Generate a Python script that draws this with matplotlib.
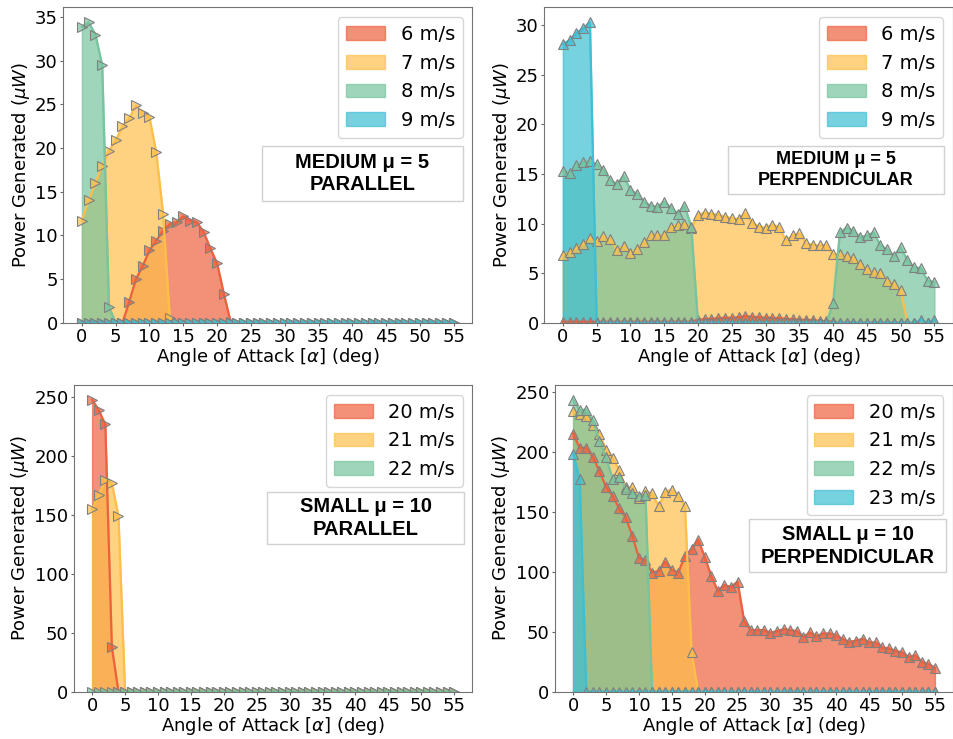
import matplotlib
matplotlib.use("Agg")
import matplotlib.pyplot as plt
from matplotlib.colors import to_rgba
from matplotlib.patches import Rectangle
import numpy as np

angles = np.arange(0, 56)

# medium particles, mu = 5, parallel orientation (uW)
med_par_6 = [0, 0, 0, 0, 0, 0, 0, 2.4, 5.0, 6.5,
             8.3, 9.4, 10.5, 11.3, 11.5, 12.2, 11.7, 11.5, 10.4, 8.5,
             6.8, 3.3, 0.1, 0, 0, 0, 0, 0, 0, 0,
             0, 0, 0, 0, 0, 0, 0, 0, 0, 0,
             0, 0, 0, 0, 0, 0, 0, 0, 0, 0,
             0, 0, 0, 0, 0, 0]
med_par_7 = [11.7, 14.0, 16.0, 18.0, 19.7, 20.9, 22.5, 23.4, 24.9, 24.0,
             23.5, 19.5, 12.5, 0.5, 0, 0, 0, 0, 0, 0,
             0, 0, 0, 0, 0, 0, 0, 0, 0, 0,
             0, 0, 0, 0, 0, 0, 0, 0, 0, 0,
             0, 0, 0, 0, 0, 0, 0, 0, 0, 0,
             0, 0, 0, 0, 0, 0]
med_par_8 = [33.9, 34.4, 33.0, 29.5, 1.8, 0, 0, 0, 0, 0,
             0, 0, 0, 0, 0, 0, 0, 0, 0, 0,
             0, 0, 0, 0, 0, 0, 0, 0, 0, 0,
             0, 0, 0, 0, 0, 0, 0, 0, 0, 0,
             0, 0, 0, 0, 0, 0, 0, 0, 0, 0,
             0, 0, 0, 0, 0, 0]
med_par_9 = [0] * 56

# medium particles, mu = 5, perpendicular orientation (uW)
med_perp_6 = [0.1, 0.1, 0.1, 0.1, 0.1, 0.1, 0.1, 0.1, 0.1, 0.1,
              0.1, 0.1, 0.1, 0.1, 0.1, 0.1, 0.1, 0.1, 0.1, 0.1,
              0.3, 0.35, 0.4, 0.45, 0.5, 0.5, 0.55, 0.65, 0.6, 0.55,
              0.5, 0.5, 0.45, 0.4, 0.35, 0.3, 0.3, 0.25, 0.2, 0.15,
              0.1, 0, 0, 0, 0, 0, 0, 0, 0, 0,
              0, 0, 0, 0, 0, 0]
med_perp_7 = [6.84, 7.1, 7.5, 7.95, 8.5, 8.2, 8.7, 8.4, 7.35, 7.75,
              7.0, 7.45, 8.1, 8.8, 8.8, 8.8, 9.7, 9.9, 9.95, 9.6,
              10.9, 11.1, 11.0, 10.9, 10.7, 10.55, 10.45, 11.05, 10.1, 9.7,
              9.6, 9.9, 9.65, 8.3, 8.8, 9.0, 8.0, 7.85, 7.8, 7.85,
              6.9, 6.9, 6.7, 6.5, 5.9, 5.4, 5.15, 5.0, 4.25, 3.9,
              3.3, 0, 0, 0, 0, 0]
med_perp_8 = [15.3, 15.1, 15.9, 16.2, 16.3, 16.0, 15.4, 14.4, 14.0, 14.8,
              13.4, 13.0, 12.2, 11.8, 11.7, 12.2, 11.6, 11.0, 11.8, 9.7,
              0, 0, 0, 0, 0, 0, 0, 0, 0, 0,
              0, 0, 0, 0, 0, 0, 0, 0, 0, 0,
              2.0, 9.1, 9.6, 9.3, 8.6, 8.8, 9.1, 7.8, 7.4, 6.7,
              7.6, 6.3, 5.6, 5.5, 4.2, 4.1]
med_perp_9 = [28.1, 28.5, 29.2, 29.7, 30.3, 0, 0, 0, 0, 0,
              0, 0, 0, 0, 0, 0, 0, 0, 0, 0,
              0, 0, 0, 0, 0, 0, 0, 0, 0, 0,
              0, 0, 0, 0, 0, 0, 0, 0, 0, 0,
              0, 0, 0, 0, 0, 0, 0, 0, 0, 0,
              0, 0, 0, 0.3, 0, 0.3]

# small particles, mu = 10, parallel orientation (uW)
sm_par_20 = [248, 239, 227, 38, 0, 0, 0, 0, 0, 0,
             0, 0, 0, 0, 0, 0, 0, 0, 0, 0,
             0, 0, 0, 0, 0, 0, 0, 0, 0, 0,
             0, 0, 0, 0, 0, 0, 0, 0, 0, 0,
             0, 0, 0, 0, 0, 0, 0, 0, 0, 0,
             0, 0, 0, 0, 0, 0]
sm_par_21 = [155, 167, 180, 177, 149, 0, 0, 0, 0, 0,
             0, 0, 0, 0, 0, 0, 0, 0, 0, 0,
             0, 0, 0, 0, 0, 0, 0, 0, 0, 0,
             0, 0, 0, 0, 0, 0, 0, 0, 0, 0,
             0, 0, 0, 0, 0, 0, 0, 0, 0, 0,
             0, 0, 0, 0, 0, 0]
sm_par_22 = [0] * 56

# small particles, mu = 10, perpendicular orientation (uW)
sm_perp_20 = [215.3, 203.3, 203.3, 195.8, 183.9, 170.8, 163.3, 152.8, 145.3, 130.0,
              111.7, 109.7, 99.4, 100.6, 108.3, 101.4, 99.4, 113.3, 118.9, 126.9,
              112.5, 96.4, 84.2, 88.9, 87.5, 91.7, 58.9, 51.4, 51.4, 51.4,
              49.2, 50.6, 52.2, 51.4, 50.6, 45.8, 49.4, 46.4, 48.6, 48.6,
              47.2, 43.9, 41.7, 42.5, 44.2, 41.1, 41.1, 36.9, 36.1, 34.2,
              32.8, 29.2, 30.3, 25.0, 23.1, 20.0]
sm_perp_21 = [233.9, 231.9, 229.7, 222.8, 215.3, 201.9, 195.0, 184.7, 170.3, 170.3,
              161.9, 167.2, 165.3, 154.7, 166.7, 168.6, 163.1, 154.7, 33.3, 0,
              0, 0, 0, 0, 0, 0, 0, 0, 0, 0,
              0, 0, 0, 0, 0, 0, 0, 0, 0, 0,
              0, 0, 0, 0, 0, 0, 0, 0, 0, 0,
              0, 0, 0, 0, 0, 0]
sm_perp_22 = [243.6, 234.7, 235.3, 226.4, 208.9, 195.8, 177.2, 179.2, 169.4, 165.3,
              163.3, 163.9, 0, 0, 0, 0, 0, 0, 0, 0,
              0, 0, 0, 0, 0, 0, 0, 0, 0, 0,
              0, 0, 0, 0, 0, 0, 0, 0, 0, 0,
              0, 0, 0, 0, 0, 0, 0, 0, 0, 0,
              0, 0, 0, 0, 0, 0]
sm_perp_23 = [198.6, 177.2, 0, 0, 0, 0, 0, 0, 0, 0,
              0, 0, 0, 0, 0, 0, 0, 0, 0, 0,
              0, 0, 0, 0, 0, 0, 0, 0, 0, 0,
              0, 0, 0, 0, 0, 0, 0, 0, 0, 0,
              0, 0, 0, 0, 0, 0, 0, 0, 0, 0,
              0, 0, 0, 0, 0, 0]

colors = ['#ED613F', '#FEBF4A', '#77C49F', '#3EBFD4']

W, H = 954, 739
fig = plt.figure(figsize=(W / 100, H / 100), dpi=100)


def px_axes(left, top, right, bottom):
    return fig.add_axes([left / W, 1 - bottom / H, (right - left) / W, (bottom - top) / H])


def panel(ax, series, labels, marker, title, title_size, box):
    for y, lab, c in zip(series, labels, colors):
        ax.fill_between(angles, y, 0, color=c, alpha=0.7, label=lab, lw=1)
        ax.plot(angles, y, color=c, lw=1.6)
        ax.plot(angles, y, ls='none', marker=marker, ms=6.5, mew=0.8,
                mfc=to_rgba(c, 0.7), mec='0.5')
    ax.set_ylim(0, ax.get_ylim()[1])
    ax.set_xticks(np.arange(0, 56, 5))
    ax.tick_params(labelsize=13, color='0.4', length=2.5, pad=1.5)
    for s in ax.spines.values():
        s.set_color('0.45')
    ax.set_xlabel('Angle of Attack [$\\alpha$] (deg)', fontsize=13, labelpad=0)
    ax.set_ylabel('Power Generated ($\\mu W$)', fontsize=13, labelpad=2)
    ax.legend(loc='upper right', fontsize=14, handlelength=2.0)
    x0, y0, x1, y1 = box
    ax.add_patch(Rectangle((x0, y0), x1 - x0, y1 - y0, transform=ax.transAxes,
                           facecolor='white', edgecolor='0.82', lw=1, zorder=5))
    ax.text((x0 + x1) / 2, (y0 + y1) / 2, title, transform=ax.transAxes,
            ha='center', va='center', multialignment='center', fontsize=title_size,
            fontweight='bold', family='Liberation Sans', linespacing=1.25, zorder=6)


ax1 = px_axes(63.3, 7.3, 472.3, 322.7)
panel(ax1, [med_par_6, med_par_7, med_par_8, med_par_9],
      ['6 m/s', '7 m/s', '8 m/s', '9 m/s'], '>',
      'MEDIUM \u03bc = 5\nPARALLEL', 14.5, (0.485, 0.386, 0.978, 0.560))

ax2 = px_axes(544.3, 7.3, 953, 322.7)
panel(ax2, [med_perp_6, med_perp_7, med_perp_8, med_perp_9],
      ['6 m/s', '7 m/s', '8 m/s', '9 m/s'], '^',
      'MEDIUM \u03bc = 5\nPERPENDICULAR', 13, (0.450, 0.408, 0.978, 0.560))

ax3 = px_axes(74, 385, 472.3, 691.7)
panel(ax3, [sm_par_20, sm_par_21, sm_par_22],
      ['20 m/s', '21 m/s', '22 m/s'], '>',
      'SMALL \u03bc = 10\nPARALLEL', 14.5, (0.485, 0.482, 0.980, 0.652))

ax4 = px_axes(555, 385, 953, 691.7)
panel(ax4, [sm_perp_20, sm_perp_21, sm_perp_22, sm_perp_23],
      ['20 m/s', '21 m/s', '22 m/s', '23 m/s'], '^',
      'SMALL \u03bc = 10\nPERPENDICULAR', 14.5, (0.488, 0.389, 0.982, 0.562))

fig.savefig('out.png', dpi=100)
